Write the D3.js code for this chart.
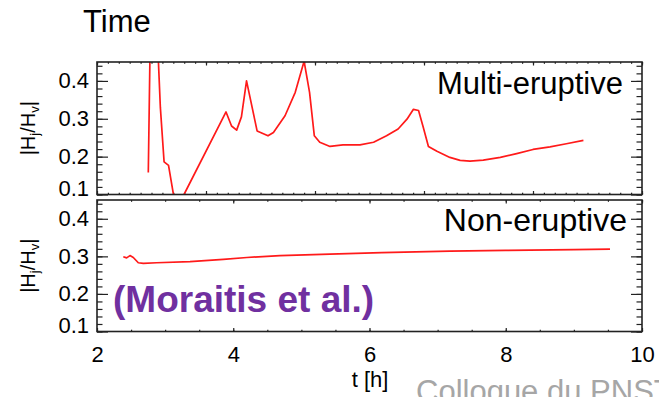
<!DOCTYPE html>
<html>
<head>
<meta charset="utf-8">
<script src="https://cdn.jsdelivr.net/npm/d3@7"></script>
<style>
  html, body { margin: 0; padding: 0; background: #fff; }
  svg { display: block; font-family: "Liberation Sans", Arial, sans-serif; }
</style>
</head>
<body>
<svg id="chart" width="659" height="397"></svg>
<script>
// Relative helicity |Hj/Hv| versus time, two simulations
const multiTime = [2.753, 2.80, 2.89, 2.93, 2.985, 3.05, 3.16, 3.277, 3.894, 3.975, 4.05, 4.12, 4.195,
  4.35, 4.51, 4.59, 4.76, 4.91, 5.04, 5.12, 5.19, 5.27, 5.42, 5.61, 5.86, 6.06, 6.25, 6.42, 6.55,
  6.645, 6.72, 6.79, 6.865, 6.99, 7.18, 7.33, 7.475, 7.67, 7.92, 8.16, 8.40, 8.65, 8.89, 9.14];
const multiRatio = [0.158, 0.75, 0.50, 0.33, 0.186, 0.177, 0.06, 0.10, 0.318, 0.281, 0.270, 0.305, 0.400,
  0.268, 0.255, 0.264, 0.308, 0.370, 0.452, 0.370, 0.255, 0.238, 0.227, 0.231, 0.231, 0.238, 0.255, 0.273, 0.299,
  0.325, 0.322, 0.277, 0.227, 0.214, 0.198, 0.190, 0.188, 0.191, 0.198, 0.208, 0.219, 0.226, 0.234, 0.243];

const nonTime = [2.386, 2.435, 2.484, 2.533, 2.606, 2.68, 2.876, 3.365, 3.855, 4.2, 4.686, 5.42, 6.18,
  7.18, 8.0, 9.0, 9.53];
const nonRatio = [0.299, 0.296, 0.302, 0.297, 0.283, 0.2815, 0.283, 0.286, 0.292, 0.297, 0.302, 0.306, 0.310,
  0.314, 0.316, 0.318, 0.319];

const timeTicks = [2, 4, 6, 8, 10];
const ratioTicks = [0.1, 0.2, 0.3, 0.4];
const ratioDomain = [0.1, 0.45];
const timeDomain = [2, 10];

const svg = d3.select("#chart");
const left = 97, right = 642;
const panels = [
  { key: "multi", top: 62, bottom: 194.5, time: multiTime, ratio: multiRatio, label: "Multi-eruptive", labelX: 623, labelY: 94, labelSize: 31 },
  { key: "non", top: 200, bottom: 331.5, time: nonTime, ratio: nonRatio, label: "Non-eruptive", labelX: 627, labelY: 230.7, labelSize: 32 }
];

const x = d3.scaleLinear().domain(timeDomain).range([left, right]);
// the upper frame carries its own evenly divided tick marks
const xFrame = d3.scaleLinear().domain([0, 5]).range([left, right]);

const axisColor = "#222";
const tickFont = 22;

panels.forEach((p) => {
  const y = d3.scaleLinear().domain(ratioDomain).range([p.bottom, p.top]);
  const g = svg.append("g");

  svg.append("clipPath").attr("id", "clip-" + p.key)
    .append("rect").attr("x", left).attr("y", p.top).attr("width", right - left).attr("height", p.bottom - p.top);

  // y axes (left with labels, right mirror)
  const minor = d3.range(0.1, 0.4501, 0.02);
  const yl = g.append("g").attr("transform", `translate(${left},0)`)
    .call(d3.axisLeft(y).tickValues(ratioTicks).tickSizeInner(-11).tickSizeOuter(0).tickPadding(8).tickFormat(d3.format(".1f")));
  yl.selectAll("text").attr("dy", 0).attr("y", d => Math.min(0.32 * tickFont, p.bottom + 0.5 - y(d)))
    .style("font-size", tickFont + "px").attr("fill", "#000");
  g.append("g").attr("transform", `translate(${left},0)`)
    .call(d3.axisLeft(y).tickValues(minor).tickSizeInner(-5.5).tickSizeOuter(0).tickFormat(""));
  g.append("g").attr("transform", `translate(${right},0)`)
    .call(d3.axisRight(y).tickValues(ratioTicks).tickSizeInner(-11).tickSizeOuter(0).tickFormat(""));
  g.append("g").attr("transform", `translate(${right},0)`)
    .call(d3.axisRight(y).tickValues(minor).tickSizeInner(-5.5).tickSizeOuter(0).tickFormat(""));

  // x axes
  if (p.key === "multi") {
    const maj = d3.range(0, 5.001, 1), mnr = d3.range(0, 5.001, 0.1);
    [[d3.axisBottom, p.bottom], [d3.axisTop, p.top]].forEach(([ax, yy]) => {
      g.append("g").attr("transform", `translate(0,${yy})`)
        .call(ax(xFrame).tickValues(maj).tickSizeInner(-3.5).tickSizeOuter(0).tickFormat(""));
      g.append("g").attr("transform", `translate(0,${yy})`)
        .call(ax(xFrame).tickValues(mnr).tickSizeInner(-1.8).tickSizeOuter(0).tickFormat(""));
    });
  } else {
    const mnr = d3.range(2, 10.001, 0.5);
    const xb = g.append("g").attr("transform", `translate(0,${p.bottom})`)
      .call(d3.axisBottom(x).tickValues(timeTicks).tickSizeInner(-3.5).tickSizeOuter(0).tickPadding(15).tickFormat(d3.format("d")));
    xb.selectAll("text").style("font-size", tickFont + "px").attr("fill", "#000");
    g.append("g").attr("transform", `translate(0,${p.bottom})`)
      .call(d3.axisBottom(x).tickValues(mnr).tickSizeInner(-1.8).tickSizeOuter(0).tickFormat(""));
    g.append("g").attr("transform", `translate(0,${p.top})`)
      .call(d3.axisTop(x).tickValues(timeTicks).tickSizeInner(-3.5).tickSizeOuter(0).tickFormat(""));
    g.append("g").attr("transform", `translate(0,${p.top})`)
      .call(d3.axisTop(x).tickValues(mnr).tickSizeInner(-1.8).tickSizeOuter(0).tickFormat(""));
  }
  g.selectAll(".domain").remove();
  g.selectAll(".tick line").attr("stroke", axisColor).attr("stroke-width", 1.2);

  // curve
  const pts = p.time.map((t, k) => [t, p.ratio[k]]);
  svg.append("path").datum(pts)
    .attr("clip-path", `url(#clip-${p.key})`)
    .attr("fill", "none").attr("stroke", "#ff1a1a").attr("stroke-width", 1.7)
    .attr("stroke-linejoin", "round")
    .attr("d", d3.line().x(d => x(d[0])).y(d => y(d[1])));

  // frame
  svg.append("rect").attr("x", left).attr("y", p.top).attr("width", right - left).attr("height", p.bottom - p.top)
    .attr("fill", "none").attr("stroke", axisColor).attr("stroke-width", 1.6);

  // panel label
  svg.append("text").attr("x", p.labelX).attr("y", p.labelY).attr("text-anchor", "end")
    .style("font-size", p.labelSize + "px").attr("fill", "#000").text(p.label);

  // y-axis title |Hj/Hv|
  const yt = svg.append("text")
    .attr("transform", `translate(35,${(p.top + p.bottom) / 2}) rotate(-90)`)
    .attr("text-anchor", "middle").style("font-size", "20px").attr("fill", "#000");
  yt.append("tspan").text("|H");
  yt.append("tspan").attr("dy", 4).style("font-size", "13px").text("j");
  yt.append("tspan").attr("dy", -4).text("/H");
  yt.append("tspan").attr("dy", 4).style("font-size", "13px").text("v");
  yt.append("tspan").attr("dy", -4).text("|");
});

// x-axis title
svg.append("text").attr("x", 370).attr("y", 387).attr("text-anchor", "middle")
  .style("font-size", "22px").attr("fill", "#000").text("t [h]");

// heading
svg.append("text").attr("x", 83).attr("y", 32).style("font-size", "31px").attr("fill", "#000").text("Time");

// citation
svg.append("text").attr("x", 113).attr("y", 311.7).style("font-size", "37px").style("font-weight", "bold")
  .attr("fill", "#7030a0").text("(Moraitis et al.)");

// footer, running off the lower edge of the page
svg.append("text").attr("x", 416).attr("y", 402).style("font-size", "31px").attr("fill", "#a6a6a6")
  .text("Colloque du PNST");
</script>
</body>
</html>
